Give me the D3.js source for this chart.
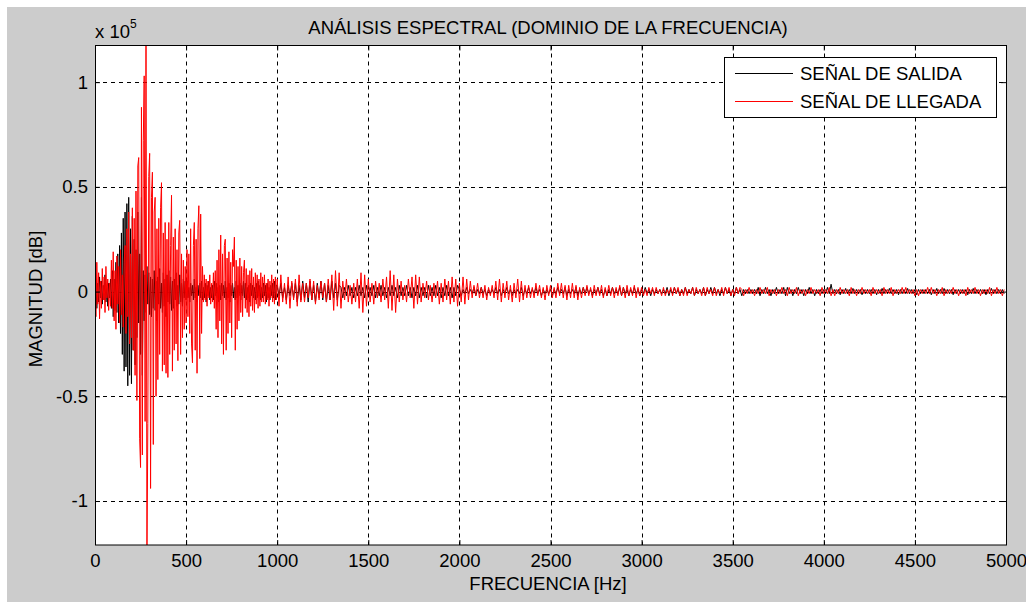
<!DOCTYPE html>
<html><head><meta charset="utf-8">
<script src="https://cdn.jsdelivr.net/npm/d3@7"></script>
<style>
body{margin:0;background:#fff;}
text{font-family:"Liberation Sans",Arial,sans-serif;fill:#000;}
</style>
</head><body>
<svg id="c" width="1026" height="602"></svg>
<script>
// ---------------- DATA ----------------
const title = "ANÁLISIS ESPECTRAL (DOMINIO DE LA FRECUENCIA)";
const xLabel = "FRECUENCIA [Hz]";
const yLabel = "MAGNITUD [dB]";
const seriesNames = ["SEÑAL DE SALIDA", "SEÑAL DE LLEGADA"];
const xTicks = [0, 500, 1000, 1500, 2000, 2500, 3000, 3500, 4000, 4500, 5000];
const xTickLabels = ["0", "500", "1000", "1500", "2000", "2500", "3000", "3500", "4000", "4500", "5000"];
const yTicks = [-1, -0.5, 0, 0.5, 1];            // in units of 10^5
const yTickLabels = ["-1", "-0.5", "0", "0.5", "1"];
const yExponent = "5";

// sampling of the spectra: 0..995 Hz every 5 Hz, 1000..4990 Hz every 10 Hz
const lowStep = 5, highStart = 1000, highStep = 10;

// values in units of 10^3
const salidaLow = [
 -12,6,-8,4,-5,7,-3,5,-6,3,-4,8,-5,2,-7,4,-3,6,
 -8,10,-12,6,-9,14,-10,18,-15,22,-20,28,-30,35,-38,
 38,-36,42,-45,45,-40,30,-44,36,-28,
 25,-35,20,-22,38,-15,18,-30,45,-40,
 10,-14,8,-10,12,-6,9,-11,7,-12,6,-8,10,-9,5,-14,7,-6,11,-8,4,-10,9,-7,6,-12,8,-5,10,-6,7,-9,5,-8,6,-4,9,-7,3,-6,8,-5,4,-7,6,-3,5,
 -4,5,-3,2,-5,4,-2,3,-4,6,-3,2,-5,3,-2,4,-3,5,-4,2,
 -3,4,-5,3,-2,5,-4,2,-3,3,-4,5,-2,4,-3,2,-5,3,-4,4,
 -2,3,-3,5,-4,2,-3,4,-5,3,-2,4,-3,2,-4,5,-3,3,-2,4,
 -4,3,-2,5,-3,4,-4,2,-3,3,-5,4,-2,3,-3,2,-4,4,-3,5,
 -2,3,-4,2,-3,4,-2,3,-5,4,-3,2,-4,3,-2,4,-3,5,-4,3
];
const salidaHigh = [
 3,-2,4,-3,2,-4,3,-2,4,-3,
 4,-5,3,-4,5,-3,4,-5,5,-4,3,-5,4,-3,5,-4,4,-5,3,-4,5,-3,4,-4,3,
 2,-3,2,-2,3,-2,2,-3,2,-2,3,-2,2,-3,3,-2,2,-2,3,-3,2,-2,3,-2,2,-3,2,-2,3,-2,
 2,-3,3,-2,2,-2,3,-2,2,-3,2,-2,3,-3,2,-2,2,-3,3,-2,2,-2,3,-2,2,-3,2,-2,3,-2,2,-3,2,-2,3,
 1,-2,1,-1,2,-1,1,-1,2,-2, 1,-1,2,-1,1,-2,1,-1,1,-1, 2,-1,1,-2,1,-1,2,-1,1,-2, 1,-1,1,-1,2,-2,1,-1,2,-1,
 1,-1,2,-1,1,-2,1,-1,1,-1, 1,-2,1,-1,2,-1,1,-1,2,-2, 1,-1,1,-1,2,-2,1,-1,2,-1, 2,-1,1,-2,1,-1,2,-1,1,-2,
 1,-2,1,-1,2,-1,1,-1,2,-2, 2,-1,1,-2,1,-1,2,-1,1,-2, 1,-1,2,-1,1,-2,1,-1,1,-1, 1,-1,1,-1,2,-2,1,-1,2,-1,
 1,-2,1,-1,2,-1,1,-1,2,-2, 1,-1,1,-1,2,-2,1,-1,2,-1, 2,-1,1,-2,1,-1,2,-1,1,-2, 1,-1,2,-1,1,-2,1,-1,1,-1,
 1,-1,1,-1,2,-2,1,-1,2,-1, 1,-2,1,-1,2,-1,1,-1,2,-2, 2,-1,1,-2,1,-1,2,-1,1,-2, 1,-1,2,-1,1,-2,1,-1,1,-1,
 1,-1,2,-1,
 3.5,-1,
 1,-1,1,-1.5,1,-1,1.5,-1,1,-1, 1.5,-1,1,-1,1,-1.5,1,-1,1,-1, 1,-1,1,-1.5,1,-1,1.5,-1,1,-1,
 1.5,-1,1,-1,1,-1.5,1,-1,1,-1, 1.5,-1,1,-1,1,-1.5,1,-1,1,-1, 1,-1,1,-1.5,1,-1,1.5,-1,1,-1,
 1.5,-1,1,-1,1,-1.5,1,-1,1,-1, 1,-1,1,-1.5,1,-1,1.5,-1,1,-1, 1,-1,1,-1.5,1,-1,1.5,-1,1,-1,
 1,-1,1,-1
];
const llegadaLow = [
 3,-12,14,-6,9,-13,5,-8,11,-4,7,-10,12,-3,6,-9,4,-7,
 15,-8,19,-14,10,-18,17,-6,12,-15,20,-11,8,-17,14,
 22,-20,30,-12,38,-25,18,-22,40,-28,
 35,-40,48,-52,60,64,-70,-84,88,-78,72,103,-62,130,-130,-63,55,66,-94,45,57,-73,38,45,-50,30,-42,35,-30,40,52,-38,28,-35,33,-39,25,-41,33,-30,22,46,-38,26,-28,30,-25,20,-33,28,34,-30,18,-22,15,-18,12,
 -15,20,-12,18,-20,30,-25,-34,22,33,-28,25,-39,30,41,-32,37,-20,12,
 -5,8,-4,6,-7,5,-3,8,-6,4,-5,9,-8,
 10,-18,15,-22,20,-14,27,-25,18,-30,22,25,-28,16,-20,19,-15,14,-22,20,12,26,-28,15,-18,12,
 -14,16,-10,12,-12,9,15,-8,11,-10,8,-12,10,-7,11,-9,7,-10,9,-6,8,-8,6,-7,9,-5,
 7,-5,8,-6,4,-4,6,-7,5,-3,8,-5,6,-6,7,-4
];
const llegadaHigh = [
 6,-7,8,-5,4,-6,7,-8,5,-4,6,-7,8,-5,4,
 -5,4,-3,6,-4,5,-6,3,-4,5,-3,4,-5,6,-4,
 8,-9,10,-7,9,-8,
 5,-4,6,-5,3,-6,4,-5,6,
 -8,9,-10,8,-7,6,
 -5,4,-6,5,-3,4,-5,6,-4,
 7,-8,10,-9,8,-10,6,-5,
 5,-4,3,-5,6,-3,
 7,-8,8,-6,7,-5,
 4,-3,5,-4,3,-5,4,-3,
 5,-6,4,-5,6,-4,5,-6,7,-5,6,-7,4,-5,7,-6,6,-4,5,-3,
 3,-2,4,-3,2,-3,3,-4,2,-2,3,-3,
 5,-4,6,-5,4,-3,5,-4,3,-5,4,-3,6,-5,5,-4,3,-3,
 3,-3,2,-3,4,-2,3,-3,2,-4,3,-2,3,-3,2,-3,4,-2,
 4,-3,3,-4,3,-3,4,-3,3,-4,
 2,-3,2,-2,3,-2,2,-3,3,-2,2,-2,3,-3,2,-2,3,-2,2,-3,2,-2,3,-2,2,-3,3,-2,2,-2,3,-3,2,-2,
 2,-2,1,-2,2,-1,2,-2,2,-1,1,-2,2,-2,1,-1,2,-2,2,-1,2,-2,1,-2,2,-2,1,-1,2,-2,
 2,-1,1,-2,2,-2,2,-1,1,-2,2,-2,1,-1,2,-2,2,-1,2,-2,1,-2,2,-1,2,
 1,-2,1,-1,2,-1,1,-2,1,-1, 2,-1,1,-1,2,-2,1,-1,1,-2, 1,-1,2,-1,1,-2,2,-1,1,-1,
 2,-2,1,-1,1,-2,1,-1,2,-1, 1,-1,1,-2,2,-1,1,-1,2,-2, 1,-2,1,-1,2,-1,1,-1,1,-2,
 2,-1,1,-2,1,-1,2,-1,1,-1, 1,-2,2,-1,1,-1,1,-2,2,-1, 1,-1,2,-2,1,-1,1,-1,2,-1,
 2,-1,1,-1,1,-2,1,-2,1,-1, 1,-1,2,-1,2,-1,1,-2,1,-1, 2,-2,1,-1,1,-1,2,-1,1,-2,
 1,-1,1,-2,2,-1,1,-1,2,-1, 1,-2,1,-1,1,-1,2,-2,1,-1, 2,-1,1,-2,1
];

// ---------------- CHART ----------------
const svg = d3.select("#c");
const L = 95, R = 1006, T = 45.5, B = 545;
const FS = 18.5;

svg.append("rect").attr("x", 7).attr("y", 7).attr("width", 1019).attr("height", 595).attr("fill", "#cccccc");

const x = d3.scaleLinear().domain([0, 5000]).range([L, R]);
const y = d3.scaleLinear().domain([-1.21, 1.175]).range([B, T]);

svg.append("rect").attr("x", L).attr("y", T).attr("width", R - L).attr("height", B - T).attr("fill", "#fff");

// grid
const grid = svg.append("g").attr("stroke", "#000").attr("stroke-width", 1).attr("stroke-dasharray", "4,4");
grid.selectAll("line.gx").data(xTicks.slice(1, -1)).enter().append("line")
  .attr("x1", d => Math.round(x(d)) + 0.5).attr("x2", d => Math.round(x(d)) + 0.5)
  .attr("y1", T).attr("y2", B);
grid.selectAll("line.gy").data(yTicks).enter().append("line")
  .attr("y1", d => Math.round(y(d)) + 0.5).attr("y2", d => Math.round(y(d)) + 0.5)
  .attr("x1", L).attr("x2", R);

// series
function build(low, high) {
  const pts = low.map((v, i) => ({ f: i * lowStep, v: v / 100 }));
  high.forEach((v, j) => pts.push({ f: highStart + j * highStep, v: v / 100 }));
  return pts;
}
const salida = build(salidaLow, salidaHigh);
const llegada = build(llegadaLow, llegadaHigh);

svg.append("clipPath").attr("id", "clip").append("rect")
  .attr("x", L).attr("y", T).attr("width", R - L).attr("height", B - T);
const line = d3.line().x(d => x(d.f)).y(d => y(d.v));
const plot = svg.append("g").attr("clip-path", "url(#clip)");
plot.append("path").datum(salida).attr("d", line).attr("fill", "none").attr("stroke", "#000").attr("stroke-width", 1);
plot.append("path").datum(llegada).attr("d", line).attr("fill", "none").attr("stroke", "#ff0000").attr("stroke-width", 1);

// axes
const xb = svg.append("g").attr("transform", `translate(0,${B})`)
  .call(d3.axisBottom(x).tickValues(xTicks).tickFormat((d, i) => xTickLabels[i]).tickSizeInner(-5).tickSizeOuter(0).tickPadding(9));
const xt = svg.append("g").attr("transform", `translate(0,${T})`)
  .call(d3.axisTop(x).tickValues(xTicks).tickFormat("").tickSizeInner(-5).tickSizeOuter(0));
const yl = svg.append("g").attr("transform", `translate(${L},0)`)
  .call(d3.axisLeft(y).tickValues(yTicks).tickFormat((d, i) => yTickLabels[i]).tickSizeInner(-5).tickSizeOuter(0).tickPadding(7));
const yr = svg.append("g").attr("transform", `translate(${R},0)`)
  .call(d3.axisRight(y).tickValues(yTicks).tickFormat("").tickSizeInner(-5).tickSizeOuter(0));
[xb, xt, yl, yr].forEach(g => {
  g.select(".domain").remove();
  g.selectAll(".tick line").attr("stroke", "#000");
  g.selectAll("text").attr("font-size", FS).attr("font-family", '"Liberation Sans",Arial,sans-serif').attr("fill", "#000");
});
svg.append("rect").attr("x", L + 0.5).attr("y", T).attr("width", R - L).attr("height", B - T)
  .attr("fill", "none").attr("stroke", "#000").attr("stroke-width", 1);

// exponent label
const ex = svg.append("text").attr("x", 95).attr("y", 38).attr("font-size", FS);
ex.append("tspan").text("x 10");
ex.append("tspan").attr("dy", -10).attr("font-size", 12).text(yExponent);

// title and axis labels
svg.append("text").attr("x", 548).attr("y", 33.5).attr("text-anchor", "middle").attr("font-size", FS).text(title);
svg.append("text").attr("x", 548).attr("y", 590).attr("text-anchor", "middle").attr("font-size", FS).text(xLabel);
svg.append("text").attr("transform", "translate(42,299) rotate(-90)").attr("text-anchor", "middle").attr("font-size", FS).text(yLabel);

// legend
const lg = svg.append("g");
lg.append("rect").attr("x", 724.5).attr("y", 57.5).attr("width", 272).attr("height", 60).attr("fill", "#fff").attr("stroke", "#000");
const colors = ["#000", "#ff0000"];
seriesNames.forEach((n, i) => {
  const cy = 73 + i * 28;
  lg.append("line").attr("x1", 735).attr("x2", 793).attr("y1", cy + 0.5).attr("y2", cy + 0.5).attr("stroke", colors[i]).attr("stroke-width", 1);
  lg.append("text").attr("x", 800).attr("y", cy + 6.5).attr("font-size", FS).text(n);
});
</script>
</body></html>
